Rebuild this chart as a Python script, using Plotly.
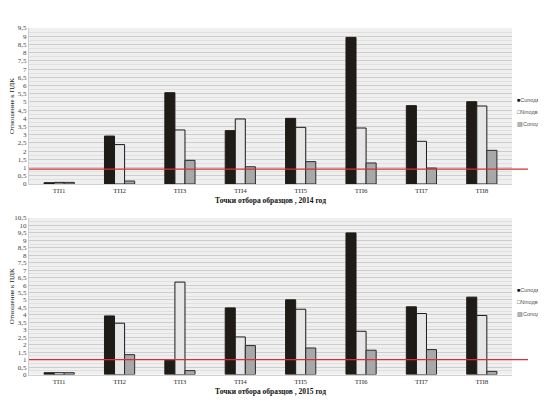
import plotly.graph_objects as go

categories = ["ТП1", "ТП2", "ТП3", "ТП4", "ТП5", "ТП6", "ТП7", "ТП8"]
series_names = ["Cuподв", "Niподв", "Coподв"]

cu_2014 = [0.08, 2.92, 5.56, 3.25, 4.0, 8.93, 4.77, 5.01]
ni_2014 = [0.1, 2.4, 3.29, 3.96, 3.45, 3.41, 2.6, 4.75]
co_2014 = [0.1, 0.18, 1.44, 1.05, 1.36, 1.28, 0.97, 2.05]

cu_2015 = [0.12, 3.93, 0.95, 4.47, 5.01, 9.5, 4.54, 5.19]
ni_2015 = [0.12, 3.44, 6.2, 2.52, 4.38, 2.9, 4.09, 3.96]
co_2015 = [0.12, 1.33, 0.26, 1.94, 1.78, 1.63, 1.67, 0.21]

pdk_2014 = 0.9
pdk_2015 = 1.0

y_max_2014 = 9.5
y_max_2015 = 10.5

xtitle_2014 = "Точки отбора образцов , 2014 год"
xtitle_2015 = "Точки отбора образцов , 2015 год"
ytitle = "Отношение к ПДК"

fills = ["#1f1c17", "#e6e6e6", "#a8a8a8"]
borders = ["#1f1c17", "#1a1a1a", "#2a2a2a"]
legend_symbols = ["■", "□", "▨"]
legend_sym_colors = ["#111111", "#222222", "#555555"]

FONT = "Liberation Serif"

# The page body has an 8px default margin, so the figure is sized to fit
W, H = 538, 401
OFF = 8

fig = go.Figure()

top_dom = [1 - (184 - OFF) / H, 1 - (28 - OFF) / H]
bot_dom = [1 - (374.5 - OFF) / H, 1 - (218 - OFF) / H]

data_top = [cu_2014, ni_2014, co_2014]
data_bot = [cu_2015, ni_2015, co_2015]

for i, name in enumerate(series_names):
    fig.add_trace(go.Bar(
        x=categories, y=data_top[i], name=name, xaxis="x", yaxis="y",
        marker=dict(color=fills[i], line=dict(color=borders[i], width=1)),
        showlegend=False,
    ))
for i, name in enumerate(series_names):
    fig.add_trace(go.Bar(
        x=categories, y=data_bot[i], name=name, xaxis="x2", yaxis="y2",
        marker=dict(color=fills[i], line=dict(color=borders[i], width=1)),
        showlegend=False,
    ))

axis_common_y = dict(
    dtick=0.5, tick0=0, gridcolor="#cdcdcd", gridwidth=1,
    minor=dict(dtick=0.25, gridcolor="#e0e0e0", showgrid=True),
    showline=True, linecolor="#d0d0d0", ticks="",
    tickfont=dict(family=FONT, size=7, color="#444"), zeroline=False,
    automargin=False,
)
axis_common_x = dict(
    showgrid=False, showline=True, linecolor="#d0d0d0", ticks="",
    tickfont=dict(family=FONT, size=7, color="#333"),
    automargin=False,
)

left = 29 - OFF
right_px = 512 - OFF
fig.update_layout(
    width=W, height=H,
    margin=dict(l=left, r=W - right_px, t=0, b=0),
    paper_bgcolor="white", plot_bgcolor="#efefef",
    separators=", ",
    barmode="group", bargap=0.5, bargroupgap=0,
    font=dict(family=FONT, size=7, color="#222"),
    showlegend=False,
    xaxis=dict(domain=[0, 1], anchor="y", **axis_common_x,
               title=dict(text=f"<b>{xtitle_2014}</b>", font=dict(family=FONT, size=7.5, color="#111"), standoff=3)),
    yaxis=dict(domain=top_dom, anchor="x", range=[0, y_max_2014], **axis_common_y,
               title=dict(text=ytitle, font=dict(family=FONT, size=7, color="#222"), standoff=6)),
    xaxis2=dict(domain=[0, 1], anchor="y2", **axis_common_x,
                title=dict(text=f"<b>{xtitle_2015}</b>", font=dict(family=FONT, size=7.5, color="#111"), standoff=3)),
    yaxis2=dict(domain=bot_dom, anchor="x2", range=[0, y_max_2015], **axis_common_y,
                title=dict(text=ytitle, font=dict(family=FONT, size=7, color="#222"), standoff=6)),
)

# compact legends (annotation-based, matching the small legend of the reference)
plot_w = right_px - left
legend_x = (515 - OFF - left) / plot_w
legend_tops = [100, 290]
for top in legend_tops:
    for i, name in enumerate(series_names):
        fig.add_annotation(
            xref="paper", yref="paper", x=legend_x, y=1 - (top - OFF + 12 * i) / H,
            xanchor="left", yanchor="middle", showarrow=False,
            text=f"<span style='color:{legend_sym_colors[i]}'>{legend_symbols[i]}</span>{name}",
            font=dict(family="Liberation Sans", size=5.5, color="#555"),
        )

fig.add_shape(type="line", xref="x domain", yref="y", x0=0, x1=1.033,
              y0=pdk_2014, y1=pdk_2014, line=dict(color="#d62f35", width=1.2))
fig.add_shape(type="line", xref="x2 domain", yref="y2", x0=0, x1=1.033,
              y0=pdk_2015, y1=pdk_2015, line=dict(color="#d62f35", width=1.2))

fig.write_html("out.html")
